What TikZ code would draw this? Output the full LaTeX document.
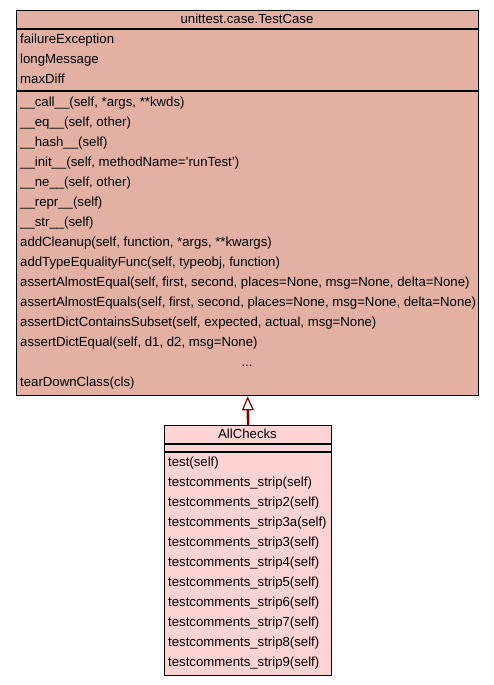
\documentclass[tikz,border=0pt]{standalone}
\usepackage{fontspec}
\setmainfont{Liberation Sans}
\usetikzlibrary{arrows.meta}

\definecolor{baseFill}{RGB}{227,177,164}
\definecolor{subFill}{RGB}{254,211,212}
\definecolor{inheritRed}{RGB}{139,0,0}

\begin{document}
\begin{tikzpicture}[x=1pt, y=-1pt,
		every node/.style={font=\fontsize{13.2}{15}\selectfont, inner sep=0pt, text height=9.5pt, text depth=2.5pt},
		member/.style={anchor=west},
		classbox/.style={draw, line width=1.3pt, anchor=north west, minimum height=#1},
		sep/.style={line width=1.3pt}]
		\useasboundingbox (0,0) rectangle (493,685);
		
		% unittest.case.TestCase
		\node [classbox=385pt, fill=baseFill, minimum width=462pt] (base) at (16,10) {};
		\draw [sep] (16,29) -- (478,29);
		\draw [sep] (16,91) -- (478,91);
		\node (baseName) at (247,20) {unittest.case.TestCase};
		
		\foreach \txt [count=\i from 0] in {failureException, longMessage, maxDiff}
		\node [member] at (20,{40 + 20*\i}) {\txt};
		
		\foreach \txt [count=\i from 0] in {{\_\_call\_\_(self, *args, **kwds)}, {\_\_eq\_\_(self, other)},
			{\_\_hash\_\_(self)}, {\_\_init\_\_(self, methodName='runTest')}, {\_\_ne\_\_(self, other)},
			{\_\_repr\_\_(self)}, {\_\_str\_\_(self)}, {addCleanup(self, function, *args, **kwargs)},
			{addTypeEqualityFunc(self, typeobj, function)},
			{assertAlmostEqual(self, first, second, places=None, msg=None, delta=None)},
			{assertAlmostEquals(self, first, second, places=None, msg=None, delta=None)},
			{assertDictContainsSubset(self, expected, actual, msg=None)},
			{assertDictEqual(self, d1, d2, msg=None)}}
		\node [member] at (20,{103 + 20*\i}) {\txt};
		
		\node (baseDots) at (247,363) {...};
		\node [member] at (20,383) {tearDownClass(cls)};
		
		% AllChecks
		\node [classbox=250pt, fill=subFill, minimum width=167pt] (sub) at (164,425) {};
		\draw [sep] (164,444) -- (331,444);
		\draw [sep] (164,452) -- (331,452);
		\node (subName) at (247.5,435) {AllChecks};
		
		\node [member] at (168,463) {test(self)};
		\foreach \suf [count=\i from 1] in {, 2, 3a, 3, 4, 5, 6, 7, 8, 9}
		\node [member] at (168,{463 + 20*\i}) {testcomments\_strip\suf(self)};
		
		\draw [inheritRed, line width=2.6pt, -{Triangle[open, length=14pt, width=12pt, line width=1.2pt]}]
		(sub.north) -- (base.south);
	\end{tikzpicture}
\end{document}
